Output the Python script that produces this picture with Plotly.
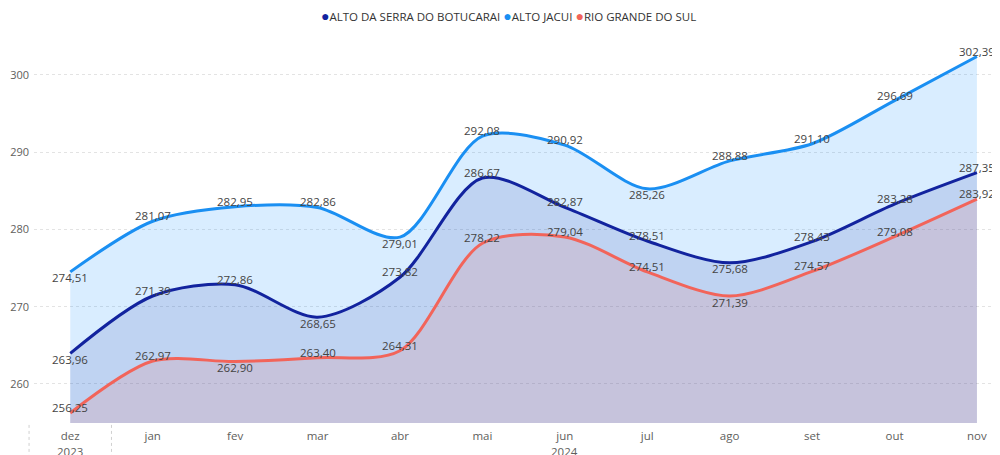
import plotly.graph_objects as go

months = ["dez", "jan", "fev", "mar", "abr", "mai", "jun", "jul", "ago", "set", "out", "nov"]
years = ["2023", "2024"]
year_center_month = ["dez", "jun"]

serra = [263.96, 271.39, 272.86, 268.65, 273.82, 286.67, 282.87, 278.51, 275.68, 278.43, 283.28, 287.35]
jacui = [274.51, 281.07, 282.95, 282.86, 279.01, 292.08, 290.92, 285.26, 288.88, 291.10, 296.69, 302.39]
rgs = [256.25, 262.97, 262.90, 263.40, 264.31, 278.22, 279.04, 274.51, 271.39, 274.57, 279.08, 283.92]

names = ["ALTO DA SERRA DO BOTUCARAI", "ALTO JACUI", "RIO GRANDE DO SUL"]
tick_vals = [260, 270, 280, 290, 300]

# styling
line_colors = {"serra": "#12239E", "jacui": "#1A8FF2", "rgs": "#F2645A"}
fill_colors = {"serra": "rgba(18,35,158,0.13)", "jacui": "rgba(17,141,255,0.16)", "rgs": "rgba(242,100,90,0.14)"}
label_pos = {
    "jacui": "baaabaabaaaa",
    "serra": "baabaaaabaaa",
    "rgs": "aabaaaaabaaa",
}
x_range = [-0.44, 11.28]

FONT = "Segoe UI, Open Sans, Noto Sans, sans-serif"

fig = go.Figure()

series = [("jacui", jacui), ("serra", serra), ("rgs", rgs)]
for key, vals in series:
    fig.add_trace(go.Scatter(
        x=months, y=vals, mode="lines",
        line=dict(color=line_colors[key], width=3, shape="spline", smoothing=0.85),
        fill="tozeroy", fillcolor=fill_colors[key],
        showlegend=False, hoverinfo="skip",
    ))

annotations = []
for key, vals in series:
    for m, v, p in zip(months, vals, label_pos[key]):
        annotations.append(dict(
            x=m, y=v, xref="x", yref="y",
            text=f"{v:.2f}".replace(".", ","),
            showarrow=False, yshift=5.5 if p == "a" else -6,
            font=dict(family=FONT, size=11.5, color="#444444"),
        ))

for yr, mc in zip(years, year_center_month):
    annotations.append(dict(
        x=mc, y=0, xref="x", yref="paper", text=yr, showarrow=False,
        yanchor="middle", yshift=-28,
        font=dict(family=FONT, size=11.5, color="#605E5C"),
    ))

# legend built as text
keys_order = ["serra", "jacui", "rgs"]
legend_html = "".join(
    f"<span style='color:{line_colors[k]}; font-size:14px'>●</span>{n} "
    for k, n in zip(keys_order, names)
)
annotations.append(dict(
    x=0.5, y=1, xref="paper", yref="paper", yshift=36, xshift=-9,
    text=legend_html.strip(), showarrow=False,
    font=dict(family=FONT, size=11.5, color="#333333"),
))

shapes = []
span = x_range[1] - x_range[0]
for xv in [-0.5, 0.5]:
    shapes.append(dict(
        type="line", xref="paper", yref="paper",
        x0=(xv - x_range[0]) / span, x1=(xv - x_range[0]) / span,
        y0=-0.005, y1=-0.09,
        line=dict(color="#D0D0D0", width=1, dash="dot"),
    ))

fig.update_layout(
    width=992, height=447,
    margin=dict(l=26, r=0, t=32, b=32),
    paper_bgcolor="white", plot_bgcolor="white",
    separators=",.",
    font=dict(family=FONT, size=11, color="#605E5C"),
    xaxis=dict(
        type="category", range=x_range, showgrid=False, zeroline=False,
        showline=False, ticks="", tickfont=dict(size=11.5, color="#605E5C"),
        ticklabelstandoff=4, automargin=False,
    ),
    yaxis=dict(
        range=[254.95, 304.53], tickvals=tick_vals, showgrid=True,
        gridcolor="#E3E3E3", griddash="dot", zeroline=False, ticks="",
        tickfont=dict(size=11, color="#605E5C"), ticklabelstandoff=4,
        automargin=False,
    ),
    annotations=annotations,
    shapes=shapes,
)

fig.write_html("out.html")
